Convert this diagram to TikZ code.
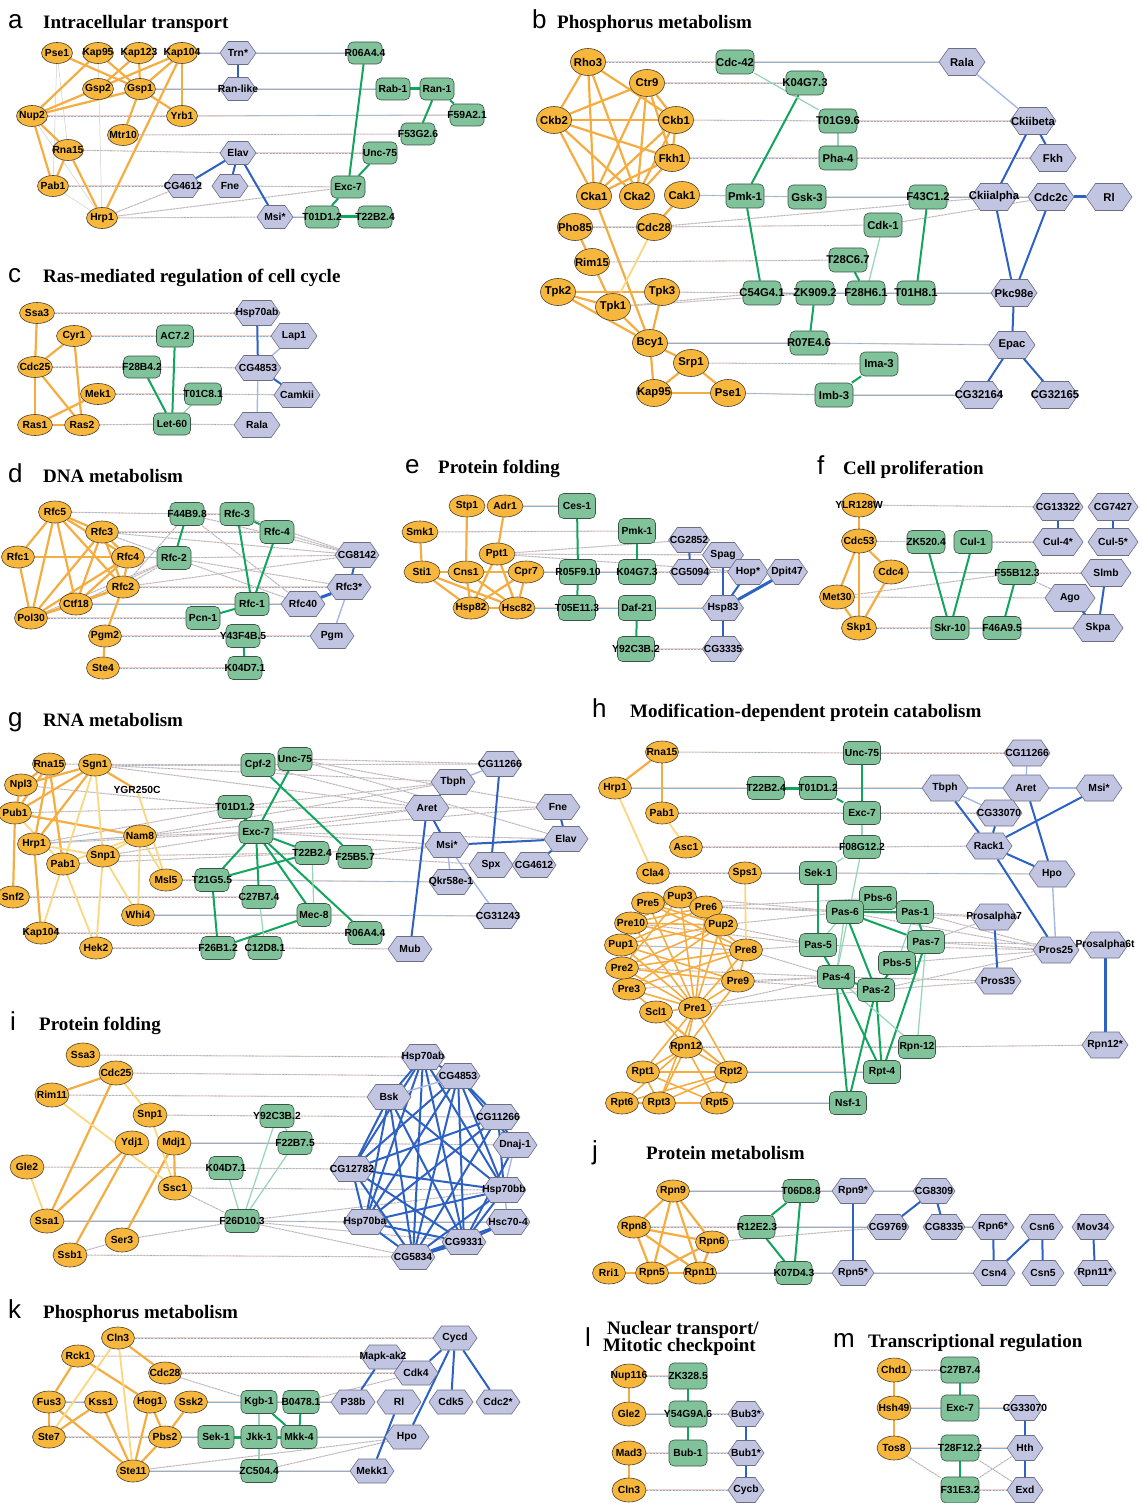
\documentclass[tikz,border=0pt]{standalone}
\usepackage{fontspec}
\newfontfamily\lblfont{Liberation Sans}
\newfontfamily\serf{Liberation Serif}
\usetikzlibrary{shapes.geometric,shapes.symbols,backgrounds}
\definecolor{yfill}{HTML}{F7B73C}
\definecolor{ydraw}{HTML}{4A4030}
\definecolor{wfill}{HTML}{80C39A}
\definecolor{wdraw}{HTML}{3C5446}
\definecolor{ffill}{HTML}{C2C5E2}
\definecolor{fdraw}{HTML}{6C6E86}
\definecolor{yedge}{HTML}{F5AD42}
\definecolor{yledge}{HTML}{FBD77E}
\definecolor{wedge}{HTML}{12A55E}
\definecolor{wledge}{HTML}{93D5B5}
\definecolor{fedge}{HTML}{2D62C4}
\definecolor{fledge}{HTML}{A4B8E8}
\definecolor{xblue}{HTML}{86B4D8}
\definecolor{xpink}{HTML}{F5D2C6}
\definecolor{gedge}{HTML}{CFCFCF}
\newcommand\nlf{\lblfont\bfseries\fontsize{10.3}{11}\selectfont}
\newcommand\nlb{\lblfont\bfseries\fontsize{11.3}{12}\selectfont}
\newcommand\Y[4]{\node[yn,label={[nl]center:#4}] (#1) at (#2,#3) {};}
\newcommand\W[4]{\node[wn,label={[nl]center:#4}] (#1) at (#2,#3) {};}
\newcommand\F[4]{\node[fn,label={[nl]center:#4}] (#1) at (#2,#3) {};}
\newcommand\E[3]{\foreach \q in {#3}{\draw[#1] (#2)--(\q);}}
\newcommand\Ttl[5]{\node[anchor=base west,inner sep=0pt,font=\lblfont\fontsize{26}{26}\selectfont] (t#1) at (#2,#4) {#1};
 \node[anchor=base west,inner sep=0pt,font=\serf\bfseries\fontsize{19}{20}\selectfont] (tt#1) at (#3,#4) {#5};}
\tikzset{
 yn/.style={ellipse,draw=ydraw,fill=yfill,line width=0.6pt,inner sep=0pt,minimum width=33pt,minimum height=22pt},
 wn/.style={rectangle,rounded corners=5pt,draw=wdraw,fill=wfill,line width=0.6pt,inner sep=0pt,minimum width=36pt,minimum height=23pt},
 fn/.style={signal,signal to=west and east,signal pointer angle=110,draw=fdraw,fill=ffill,line width=0.6pt,inner sep=0pt,minimum width=44pt,minimum height=25pt},
 nl/.style={font=\nlf,inner sep=0pt,text=black},
 ye/.style={draw=yedge,line width=2.2pt},
 yc/.style={draw=yedge,line width=1.6pt},
 yl/.style={draw=yledge,line width=1.8pt},
 yg/.style={draw=gedge,line width=0.5pt},
 we/.style={draw=wedge,line width=2pt},
 wt/.style={draw=wedge,line width=3pt},
 wl/.style={draw=wledge,line width=1.2pt},
 fe/.style={draw=fedge,line width=2pt},
 ft/.style={draw=fedge,line width=3pt},
 fl/.style={draw=fledge,line width=1.4pt},
 flt/.style={draw=fledge,line width=2.6pt},
 xs/.style={draw=xblue,line width=0.55pt,preaction={draw=xpink,line width=1.3pt}},
 xd/.style={draw=xblue,line width=0.55pt,dash pattern=on 2pt off 1.3pt,preaction={draw=xpink,line width=1.1pt,solid}},
}
\begin{document}
\begin{tikzpicture}[x=1pt,y=-1pt]
\useasboundingbox (0,0) rectangle (1141,1503);
\begin{scope}[on background layer]\fill[white] (0,0) rectangle (1141,1503);\end{scope}
% ================= a =================
\Ttl{a}{8}{43}{29}{Intracellular transport}
\begin{scope}[yn/.append style={minimum width=31pt,minimum height=21pt},wn/.append style={minimum width=34pt,minimum height=22pt},fn/.append style={minimum width=36pt,minimum height=23pt}]
\Y{aPse1}{57}{53}{Pse1}
\Y{aKap95}{98}{53}{Kap95}
\Y{aKap123}{139}{53}{Kap123}
\Y{aKap104}{182}{53}{Kap104}
\F{aTrn}{238}{53}{Trn*}
\W{aR06}{365}{53}{R06A4.4}
\Y{aGsp2}{98}{89}{Gsp2}
\Y{aGsp1}{140}{89}{Gsp1}
\F{aRanl}{238}{89}{Ran-like}
\W{aRab1}{393}{89}{Rab-1}
\W{aRan1}{437}{89}{Ran-1}
\Y{aNup2}{32}{116}{Nup2}
\Y{aYrb1}{182}{116}{Yrb1}
\W{aF59}{467}{115}{F59A2.1}
\Y{aMtr10}{123}{135}{Mtr10}
\W{aF53}{418}{134}{F53G2.6}
\Y{aRna15}{68}{150}{Rna15}
\F{aElav}{238}{153}{Elav}
\W{aUnc75}{380}{153}{Unc-75}
\Y{aPab1}{53}{186}{Pab1}
\F{aCG4612}{183}{186}{CG4612}
\F{aFne}{230}{186}{Fne}
\W{aExc7}{348}{187}{Exc-7}
\Y{aHrp1}{102}{218}{Hrp1}
\F{aMsi}{275}{217}{Msi*}
\W{aT01}{322}{217}{T01D1.2}
\W{aT22}{375}{217}{T22B2.4}
\end{scope}
\begin{scope}[on background layer]
\E{xs}{aKap104}{aTrn}
\E{xs}{aTrn}{aR06}
\E{xs}{aGsp1}{aRanl}
\E{xs}{aRanl}{aRab1}
\E{xd}{aNup2}{aYrb1}
\E{xs}{aYrb1}{aF59}
\E{xd}{aMtr10}{aF53}
\E{xd}{aRna15}{aElav}
\E{xd}{aElav}{aUnc75}
\E{xd}{aPab1}{aCG4612}
\E{xd}{aFne}{aExc7}
\E{xd}{aHrp1}{aCG4612,aExc7,aMsi}
\E{xs}{aMsi}{aT01}
\E{yg}{aPse1}{aRna15,aPab1}
\E{yg}{aHrp1}{aPab1,aNup2,aKap95}
\E{ye}{aPse1}{aGsp1}
\E{ye}{aKap95}{aGsp1,aNup2}
\E{ye}{aKap123}{aGsp1,aGsp2}
\E{ye}{aKap104}{aGsp1,aNup2,aYrb1,aHrp1}
\E{ye}{aGsp1}{aYrb1,aNup2,aMtr10}
\E{ye}{aNup2}{aRna15,aPab1}
\E{ye}{aRna15}{aPab1,aHrp1}
\E{we}{aR06}{aExc7}
\E{wt}{aRab1}{aRan1}
\E{we}{aRan1}{aF59,aF53}
\E{we}{aUnc75}{aExc7}
\E{we}{aExc7}{aT01}
\E{wt}{aT01}{aT22}
\E{fe}{aTrn}{aRanl}
\E{fe}{aElav}{aCG4612,aFne,aMsi}
\end{scope}
% ================= b =================
\Ttl{b}{532}{557}{29}{Phosphorus metabolism}
\begin{scope}[yn/.append style={minimum width=35pt,minimum height=27pt},wn/.append style={minimum width=38pt,minimum height=24pt},fn/.append style={minimum width=46pt,minimum height=27pt},nl/.append style={font=\nlb}]
\Y{bRho3}{588}{62}{Rho3}
\W{bCdc42}{735}{62}{Cdc-42}
\F{bRala}{962}{62}{Rala}
\Y{bCtr9}{647}{83}{Ctr9}
\W{bK04}{805}{83}{K04G7.3}
\Y{bCkb2}{554}{120}{Ckb2}
\Y{bCkb1}{676}{120}{Ckb1}
\W{bT01G}{838}{121}{T01G9.6}
\F{bCkiib}{1033}{121}{Ckiibeta}
\Y{bFkh1}{672}{158}{Fkh1}
\W{bPha4}{838}{158}{Pha-4}
\F{bFkh}{1053}{158}{Fkh}
\Y{bCka1}{594}{196}{Cka1}
\Y{bCka2}{637}{196}{Cka2}
\Y{bCak1}{682}{195}{Cak1}
\W{bPmk1}{745}{196}{Pmk-1}
\W{bGsk3}{807}{197}{Gsk-3}
\W{bF43}{928}{197}{F43C1.2}
\F{bCkiia}{994}{197}{Ckiialpha}
\F{bCdc2c}{1051}{197}{Cdc2c}
\F{bRl}{1109}{197}{Rl}
\Y{bPho85}{575}{227}{Pho85}
\Y{bCdc28}{654}{227}{Cdc28}
\W{bCdk1}{883}{225}{Cdk-1}
\Y{bRim15}{592}{262}{Rim15}
\W{bT28}{848}{260}{T28C6.7}
\Y{bTpk2}{558}{292}{Tpk2}
\Y{bTpk3}{662}{292}{Tpk3}
\Y{bTpk1}{613}{307}{Tpk1}
\W{bC54}{762}{293}{C54G4.1}
\W{bZK}{815}{293}{ZK909.2}
\W{bF28}{866}{293}{F28H6.1}
\W{bT01H}{916}{293}{T01H8.1}
\F{bPkc}{1014}{293}{Pkc98e}
\Y{bBcy1}{650}{343}{Bcy1}
\W{bR07}{809}{343}{R07E4.6}
\F{bEpac}{1012}{345}{Epac}
\Y{bSrp1}{691}{363}{Srp1}
\W{bIma3}{879}{364}{Ima-3}
\Y{bKap95}{654}{393}{Kap95}
\Y{bPse1}{728}{393}{Pse1}
\W{bImb3}{834}{395}{Imb-3}
\F{bCG64}{979}{395}{CG32164}
\F{bCG65}{1055}{395}{CG32165}
\end{scope}
\begin{scope}[on background layer]
\E{xd}{bRho3}{bCdc42}
\E{xs}{bCdc42}{bRala}
\E{xd}{bCtr9}{bK04}
\E{xd}{bCkb1}{bT01G}
\E{xd}{bT01G}{bCkiib}
\E{xd}{bFkh1}{bPha4}
\E{xd}{bPha4}{bFkh}
\E{xs}{bCak1}{bPmk1}
\E{xs}{bPmk1}{bGsk3}
\E{xs}{bGsk3}{bF43}
\E{xs}{bF43}{bCkiia}
\E{xs}{bCkiia}{bCdc2c}
\E{xd}{bPho85}{bCdc28}
\E{xd}{bCdc28}{bCdk1,bCkiia}
\E{xd}{bCdk1}{bCdc2c}
\E{xd}{bRim15}{bT28}
\E{xd}{bTpk1}{bC54,bZK}
\E{xd}{bTpk3}{bC54}
\E{xs}{bC54}{bZK}
\E{xs}{bZK}{bF28}
\E{xs}{bF28}{bT01H}
\E{xs}{bT01H}{bPkc}
\E{xs}{bBcy1}{bR07}
\E{xs}{bR07}{bEpac}
\E{xd}{bSrp1}{bIma3}
\E{xs}{bPse1}{bImb3}
\E{xs}{bImb3}{bCG64}
\E{ye}{bRho3}{bCkb2,bCkb1,bCka1,bCka2}
\E{ye}{bCtr9}{bCkb2,bCkb1,bCka1,bCka2,bFkh1}
\E{ye}{bCkb2}{bCkb1,bCka1,bCka2,bFkh1}
\E{ye}{bCkb1}{bCka1,bCka2,bFkh1}
\E{ye}{bFkh1}{bCka1,bCka2}
\E{ye}{bCak1}{bCdc28}
\E{ye}{bCka1}{bBcy1}
\E{ye}{bPho85}{bRim15}
\E{ye}{bRim15}{bTpk1}
\E{ye}{bTpk2}{bTpk3,bTpk1,bBcy1}
\E{ye}{bTpk1}{bBcy1}
\E{ye}{bTpk3}{bBcy1}
\E{ye}{bBcy1}{bKap95,bSrp1}
\E{ye}{bSrp1}{bKap95,bPse1}
\E{ye}{bKap95}{bPse1}
\E{yl}{bCdc28}{bTpk1}
\E{we}{bK04}{bPmk1}
\E{we}{bPmk1}{bC54}
\E{we}{bF43}{bT01H}
\E{we}{bT28}{bF28}
\E{we}{bZK}{bR07}
\E{we}{bIma3}{bImb3}
\E{wl}{bCdc42}{bT01G}
\E{wl}{bT01G}{bPha4}
\E{wl}{bCdk1}{bF28}
\E{fl}{bRala}{bCkiib}
\E{fe}{bCkiib}{bCkiia,bFkh}
\E{fe}{bCkiia}{bPkc}
\E{fe}{bCdc2c}{bPkc}
\E{ft}{bCdc2c}{bRl}
\E{fe}{bPkc}{bEpac}
\E{fe}{bEpac}{bCG64,bCG65}
\end{scope}
% ================= c =================
\Ttl{c}{8}{43}{283}{Ras-mediated regulation of cell cycle}
\begin{scope}[yn/.append style={minimum width=35pt,minimum height=21pt},wn/.append style={minimum width=37pt,minimum height=22pt},fn/.append style={minimum width=46pt,minimum height=25pt}]
\Y{cSsa3}{37}{313}{Ssa3}
\F{cHsp}{257}{313}{Hsp70ab}
\Y{cCyr1}{74}{336}{Cyr1}
\W{cAC7}{175}{336}{AC7.2}
\F{cLap1}{294}{336}{Lap1}
\Y{cCdc25}{35}{367}{Cdc25}
\W{cF28}{142}{367}{F28B4.2}
\F{cCG48}{258}{368}{CG4853}
\Y{cMek1}{98}{394}{Mek1}
\W{cT01C}{203}{394}{T01C8.1}
\F{cCamk}{297}{395}{Camkii}
\Y{cRas1}{35}{425}{Ras1}
\Y{cRas2}{82}{425}{Ras2}
\W{cLet60}{172}{424}{Let-60}
\F{cRala}{257}{425}{Rala}
\end{scope}
\begin{scope}[on background layer]
\E{xd}{cSsa3}{cHsp}
\E{xd}{cCyr1}{cAC7}
\E{xd}{cAC7}{cLap1}
\E{xd}{cCdc25}{cF28}
\E{xd}{cF28}{cCG48}
\E{xd}{cMek1}{cT01C}
\E{xd}{cT01C}{cCamk}
\E{xd}{cRas2}{cLet60}
\E{xd}{cLet60}{cRala}
\E{ye}{cSsa3}{cCdc25}
\E{ye}{cCyr1}{cCdc25,cRas2}
\E{ye}{cCdc25}{cRas1,cRas2}
\E{ye}{cRas1}{cRas2,cMek1}
\E{we}{cAC7}{cLet60}
\E{we}{cF28}{cLet60}
\E{wl}{cT01C}{cLet60}
\E{fe}{cHsp}{cCG48}
\E{fe}{cCG48}{cCamk}
\E{fl}{cLap1}{cCG48}
\E{fl}{cCG48}{cRala}
\end{scope}
% ================= d =================
\Ttl{d}{8}{43}{482}{DNA metabolism}
\begin{scope}[wn/.append style={minimum width=34pt}]
\Y{dRfc5}{55}{512}{Rfc5}
\W{dF44}{187}{514}{F44B9.8}
\W{dW3}{237}{514}{Rfc-3}
\Y{dRfc3}{102}{532}{Rfc3}
\W{dW4}{277}{532}{Rfc-4}
\Y{dRfc1}{18}{557}{Rfc1}
\Y{dRfc4}{128}{557}{Rfc4}
\W{dW2}{174}{558}{Rfc-2}
\F{dCG81}{357}{555}{CG8142}
\Y{dRfc2}{123}{587}{Rfc2}
\F{dRfc3s}{349}{587}{Rfc3*}
\Y{dCtf18}{76}{604}{Ctf18}
\W{dW1}{252}{604}{Rfc-1}
\F{dRfc40}{303}{604}{Rfc40}
\Y{dPol30}{31}{618}{Pol30}
\W{dPcn1}{203}{618}{Pcn-1}
\Y{dPgm2}{105}{636}{Pgm2}
\W{dY43}{243}{636}{Y43F4B.5}
\F{dPgm}{332}{636}{Pgm}
\Y{dSte4}{103}{668}{Ste4}
\W{dK04}{245}{668}{K04D7.1}
\end{scope}
\begin{scope}[on background layer]
\E{xd}{dRfc5}{dF44}
\E{xd}{dF44}{dW3,dCG81,dRfc40}
\E{xd}{dRfc3}{dW2,dCG81,dW4}
\E{xd}{dW2}{dCG81,dRfc3s,dRfc40}
\E{xd}{dRfc2}{dW2,dCG81,dRfc3s,dF44}
\E{xd}{dCtf18}{dW2}
\E{xd}{dPol30}{dW2,dPcn1}
\E{xd}{dW3}{dCG81}
\E{xd}{dW4}{dCG81}
\E{xd}{dPgm2}{dY43}
\E{xd}{dY43}{dPgm}
\E{xd}{dSte4}{dK04}
\E{xs}{dCtf18}{dW1}
\E{xs}{dW1}{dRfc40}
\E{xs}{dRfc4}{dW2}
\E{ye}{dRfc5}{dRfc3,dRfc1,dRfc4,dRfc2,dCtf18,dPol30}
\E{ye}{dRfc1}{dRfc4,dPol30}
\E{ye}{dRfc3}{dRfc4,dRfc2,dCtf18,dPol30}
\E{ye}{dRfc4}{dRfc2,dCtf18,dPol30}
\E{ye}{dRfc2}{dCtf18,dPol30,dPgm2}
\E{ye}{dCtf18}{dPol30}
\E{ye}{dPgm2}{dSte4}
\E{we}{dF44}{dW2}
\E{we}{dW3}{dW1,dW4}
\E{we}{dW4}{dW1}
\E{we}{dW1}{dPcn1}
\E{we}{dY43}{dK04}
\E{fe}{dCG81}{dRfc3s}
\E{ft}{dRfc3s}{dRfc40}
\E{fl}{dRfc3s}{dPgm}
\end{scope}
% ================= e =================
\Ttl{e}{405}{438}{473}{Protein folding}
\begin{scope}[yn/.append style={minimum width=36pt},wn/.append style={minimum width=37pt,minimum height=25pt},fn/.append style={minimum width=41pt}]
\Y{eStp1}{467}{506}{Stp1}
\Y{eAdr1}{505}{506}{Adr1}
\W{eCes1}{577}{506}{Ces-1}
\Y{eSmk1}{420}{532}{Smk1}
\W{ePmk1}{637}{531}{Pmk-1}
\F{eCG28}{689}{540}{CG2852}
\Y{ePpt1}{497}{554}{Ppt1}
\F{eSpag}{723}{555}{Spag}
\Y{eSti1}{422}{572}{Sti1}
\Y{eCns1}{466}{572}{Cns1}
\Y{eCpr7}{526}{572}{Cpr7}
\W{eR05}{578}{572}{R05F9.10}
\W{eK04}{637}{572}{K04G7.3}
\F{eCG50}{690}{572}{CG5094}
\F{eHop}{748}{572}{Hop*}
\F{eDpit}{787}{572}{Dpit47}
\Y{eHsp82}{471}{608}{Hsp82}
\Y{eHsc82}{517}{608}{Hsc82}
\W{eT05}{577}{608}{T05E11.3}
\W{eDaf21}{637}{608}{Daf-21}
\F{eHsp83}{723}{608}{Hsp83}
\W{eY92}{636}{649}{Y92C3B.2}
\F{eCG33}{723}{649}{CG3335}
\end{scope}
\begin{scope}[on background layer]
\E{xs}{eAdr1}{eCes1}
\E{xd}{eSmk1}{ePmk1}
\E{xd}{ePpt1}{eCG28,eSpag,eHop}
\E{xs}{eCpr7}{eR05}
\E{xs}{eR05}{eK04}
\E{xd}{eK04}{eCG50}
\E{xd}{eCG50}{eHop}
\E{xs}{eHsc82}{eT05}
\E{xs}{eT05}{eDaf21}
\E{xs}{eDaf21}{eHsp83}
\E{xd}{eY92}{eCG33}
\E{ye}{eSmk1}{eSti1}
\E{ye}{eStp1}{eCns1}
\E{ye}{eAdr1}{ePpt1}
\E{ye}{eSti1}{eCns1,eHsp82,eHsc82}
\E{ye}{eCns1}{eHsp82,eHsc82,eCpr7}
\E{ye}{eCpr7}{eHsp82,eHsc82}
\E{ye}{ePpt1}{eHsp82,eHsc82}
\E{ye}{eHsp82}{eHsc82}
\E{we}{eCes1}{eR05}
\E{we}{eR05}{eT05}
\E{we}{ePmk1}{eK04}
\E{we}{eDaf21}{eY92}
\E{fe}{eCG28}{eCG50}
\E{fe}{eSpag}{eHsp83}
\E{fe}{eHop}{eHsp83}
\E{ft}{eDpit}{eHsp83}
\E{fe}{eHsp83}{eCG33}
\end{scope}
% ================= f =================
\Ttl{f}{817}{843}{474}{Cell proliferation}
\begin{scope}[yn/.append style={minimum width=35pt,minimum height=24pt},wn/.append style={minimum width=38pt},fn/.append style={minimum width=50pt,minimum height=27pt}]
\Y{fYLR}{859}{505}{YLR128W}
\F{fCG13}{1058}{507}{CG13322}
\F{fCG74}{1113}{507}{CG7427}
\Y{fCdc53}{859}{541}{Cdc53}
\W{fZK}{926}{542}{ZK520.4}
\W{fCul1}{973}{542}{Cul-1}
\F{fCul4}{1058}{542}{Cul-4*}
\F{fCul5}{1113}{542}{Cul-5*}
\Y{fCdc4}{891}{572}{Cdc4}
\W{fF55}{1017}{573}{F55B12.3}
\F{fSlmb}{1106}{573}{Slmb}
\Y{fMet30}{837}{597}{Met30}
\F{fAgo}{1070}{598}{Ago}
\Y{fSkp1}{859}{628}{Skp1}
\W{fSkr10}{950}{628}{Skr-10}
\W{fF46}{1002}{628}{F46A9.5}
\F{fSkpa}{1098}{628}{Skpa}
\end{scope}
\begin{scope}[on background layer]
\E{xd}{fYLR}{fCG13}
\E{xd}{fCdc53}{fZK}
\E{xd}{fCul1}{fCul4}
\E{xs}{fCdc4}{fF55}
\E{xd}{fF55}{fSlmb,fAgo}
\E{xd}{fMet30}{fF55,fAgo}
\E{xd}{fSkp1}{fSkr10}
\E{xs}{fSkr10}{fF46}
\E{xs}{fF46}{fSkpa}
\E{ye}{fYLR}{fCdc53}
\E{ye}{fCdc53}{fMet30,fSkp1,fCdc4}
\E{ye}{fMet30}{fSkp1}
\E{ye}{fCdc4}{fSkp1}
\E{we}{fZK}{fSkr10}
\E{we}{fCul1}{fSkr10}
\E{we}{fF55}{fF46}
\E{fe}{fCG13}{fCul4}
\E{fe}{fCG74}{fCul5}
\E{fe}{fSlmb}{fSkpa}
\E{fe}{fAgo}{fSkpa}
\end{scope}
% ================= g =================
\Ttl{g}{8}{43}{726}{RNA metabolism}
\begin{scope}[wn/.append style={minimum width=34pt}]
\Y{gRna15}{49}{764}{Rna15}
\Y{gSgn1}{95}{765}{Sgn1}
\Y{gNpl3}{21}{785}{Npl3}
\node[label={[nl]center:YGR250C}] (gYGR) at (137,790) {};
\Y{gPub1}{15}{813}{Pub1}
\W{gCpf2}{258}{765}{Cpf-2}
\W{gUnc75}{295}{759}{Unc-75}
\F{gCG11}{500}{764}{CG11266}
\F{gTbph}{453}{782}{Tbph}
\W{gT01}{235}{807}{T01D1.2}
\F{gAret}{427}{808}{Aret}
\F{gFne}{558}{807}{Fne}
\W{gExc7}{256}{832}{Exc-7}
\Y{gNam8}{140}{836}{Nam8}
\Y{gHrp1}{34}{844}{Hrp1}
\Y{gSnp1}{103}{856}{Snp1}
\Y{gPab1}{63}{864}{Pab1}
\W{gT22}{312}{853}{T22B2.4}
\W{gF25}{355}{857}{F25B5.7}
\F{gMsi}{447}{845}{Msi*}
\F{gElav}{566}{839}{Elav}
\F{gSpx}{491}{865}{Spx}
\F{gCG46}{534}{865}{CG4612}
\Y{gMsl5}{166}{880}{Msl5}
\W{gT21}{212}{880}{T21G5.5}
\F{gQkr}{451}{882}{Qkr58e-1}
\Y{gSnf2}{13}{897}{Snf2}
\W{gC27}{259}{897}{C27B7.4}
\Y{gWhi4}{138}{915}{Whi4}
\W{gMec8}{314}{915}{Mec-8}
\F{gCG31}{498}{916}{CG31243}
\Y{gKap104}{41}{933}{Kap104}
\W{gR06}{365}{933}{R06A4.4}
\Y{gHek2}{96}{948}{Hek2}
\W{gF26}{218}{948}{F26B1.2}
\W{gC12}{265}{948}{C12D8.1}
\F{gMub}{410}{949}{Mub}
\end{scope}
\begin{scope}[on background layer]
\E{xd}{gSgn1}{gCpf2,gTbph,gAret,gCG11}
\E{xd}{gRna15}{gCpf2}
\E{xd}{gUnc75}{gCG11,gElav,gFne}
\E{xd}{gCpf2}{gAret}
\E{xd}{gNpl3}{gT01}
\E{xd}{gPub1}{gT01}
\E{xd}{gT01}{gAret,gTbph}
\E{xd}{gAret}{gFne}
\E{xd}{gNam8}{gExc7,gTbph,gAret}
\E{xd}{gExc7}{gAret,gElav,gFne,gMsi}
\E{xd}{gHrp1}{gExc7,gT01}
\E{xd}{gPab1}{gT22}
\E{xd}{gSnp1}{gT22,gExc7}
\E{xd}{gF25}{gSpx,gMsi}
\E{xd}{gT22}{gElav}
\E{xd}{gMsl5}{gT21}
\E{xs}{gT21}{gQkr}
\E{xd}{gSnf2}{gC27}
\E{xs}{gWhi4}{gMec8}
\E{xs}{gMec8}{gCG31}
\E{xd}{gKap104}{gR06}
\E{xd}{gHek2}{gF26}
\E{xd}{gC12}{gMub}
\E{xs}{gHrp1}{gNam8}
\E{ye}{gRna15}{gNpl3,gPub1,gHrp1,gPab1}
\E{ye}{gSgn1}{gNpl3,gPub1,gHrp1,gYGR}
\E{ye}{gPub1}{gNam8,gSnf2}
\E{ye}{gHrp1}{gKap104}
\E{ye}{gNpl3}{gPub1}
\E{yl}{gSgn1}{gPab1,gSnp1}
\E{yl}{gYGR}{gMsl5}
\E{yl}{gNam8}{gMsl5,gSnp1,gWhi4,gPab1}
\E{yl}{gPab1}{gKap104,gHek2}
\E{yl}{gSnp1}{gHek2,gWhi4}
\E{yl}{gHrp1}{gSnp1}
\E{yl}{gPub1}{gPab1}
\E{we}{gUnc75}{gExc7}
\E{we}{gCpf2}{gF25}
\E{we}{gT01}{gExc7}
\E{we}{gExc7}{gT22,gT21,gC27,gMec8,gR06}
\E{we}{gT22}{gT21}
\E{we}{gT21}{gF26}
\E{we}{gMec8}{gF26}
\E{wl}{gT22}{gMec8}
\E{wl}{gC27}{gC12}
\E{fe}{gCG11}{gSpx}
\E{fe}{gTbph}{gAret}
\E{fe}{gAret}{gMsi,gMub}
\E{fe}{gFne}{gElav}
\E{fe}{gMsi}{gElav}
\E{fe}{gElav}{gCG46}
\E{fl}{gCG11}{gTbph}
\E{fl}{gMsi}{gQkr,gCG31}
\end{scope}
% ================= h =================
\Ttl{h}{592}{630}{717}{Modification-dependent protein catabolism}
\begin{scope}[wn/.append style={minimum width=37pt},fn/.append style={minimum width=46pt,minimum height=26pt}]
\Y{hRna15}{662}{752}{Rna15}
\W{hUnc75}{862}{753}{Unc-75}
\F{hCG11}{1027}{753}{CG11266}
\Y{hHrp1}{615}{788}{Hrp1}
\W{hT22}{766}{788}{T22B2.4}
\W{hT01}{818}{788}{T01D1.2}
\F{hTbph}{945}{788}{Tbph}
\F{hAret}{1026}{788}{Aret}
\F{hMsi}{1099}{788}{Msi*}
\Y{hPab1}{662}{813}{Pab1}
\W{hExc7}{862}{813}{Exc-7}
\F{hCG33}{999}{813}{CG33070}
\Y{hAsc1}{686}{847}{Asc1}
\W{hF08}{862}{847}{F08G12.2}
\F{hRack1}{989}{846}{Rack1}
\Y{hCla4}{653}{873}{Cla4}
\Y{hSps1}{745}{873}{Sps1}
\W{hSek1}{818}{873}{Sek-1}
\F{hHpo}{1052}{874}{Hpo}
\W{hPbs6}{878}{898}{Pbs-6}
\W{hPas6}{845}{912}{Pas-6}
\W{hPas1}{915}{912}{Pas-1}
\F{hPa7}{994}{917}{Prosalpha7}
\W{hPas5}{818}{945}{Pas-5}
\W{hPas7}{926}{942}{Pas-7}
\F{hPros25}{1056}{950}{Pros25}
\F{hPa6t}{1105}{945}{Prosalpha6t}
\W{hPbs5}{897}{963}{Pbs-5}
\W{hPas4}{836}{977}{Pas-4}
\F{hPros35}{998}{981}{Pros35}
\W{hPas2}{876}{990}{Pas-2}
\Y{hPre3}{629}{989}{Pre3}
\Y{hPre2}{622}{968}{Pre2}
\Y{hPup1}{621}{945}{Pup1}
\Y{hPre10}{631}{923}{Pre10}
\Y{hPre5}{648}{903}{Pre5}
\Y{hPup3}{680}{897}{Pup3}
\Y{hPre6}{706}{907}{Pre6}
\Y{hPup2}{721}{925}{Pup2}
\Y{hPre8}{746}{950}{Pre8}
\Y{hPre9}{738}{981}{Pre9}
\Y{hScl1}{656}{1012}{Scl1}
\Y{hPre1}{695}{1008}{Pre1}
\Y{hRpn12}{686}{1047}{Rpn12}
\W{hRpnw}{917}{1047}{Rpn-12}
\F{hRpns}{1105}{1045}{Rpn12*}
\Y{hRpt1}{643}{1072}{Rpt1}
\Y{hRpt2}{731}{1072}{Rpt2}
\W{hRpt4w}{882}{1072}{Rpt-4}
\Y{hRpt6}{622}{1103}{Rpt6}
\Y{hRpt3}{659}{1103}{Rpt3}
\Y{hRpt5}{717}{1103}{Rpt5}
\W{hNsf1}{848}{1103}{Nsf-1}
\end{scope}
\begin{scope}[on background layer]
\E{xd}{hRna15}{hUnc75}
\E{xd}{hUnc75}{hCG11}
\E{xs}{hHrp1}{hT22}
\E{xs}{hT01}{hTbph}
\E{xd}{hPab1}{hExc7}
\E{xd}{hExc7}{hCG33}
\E{xd}{hAsc1}{hF08}
\E{xd}{hF08}{hRack1}
\E{xd}{hCla4}{hSps1}
\E{xs}{hSps1}{hSek1}
\E{xs}{hSek1}{hHpo}
\E{xd}{hPre6}{hPas6,hPbs6,hPas1}
\E{xd}{hPup3}{hPas6}
\E{xd}{hPup2}{hPas6,hPas5}
\E{xd}{hPre10}{hPas5}
\E{xs}{hPup1}{hPre8}
\E{xd}{hPre8}{hPas5,hPas4}
\E{xd}{hPre2}{hPas4}
\E{xd}{hPre9}{hPas4,hPas2}
\E{xd}{hPre3}{hPas4}
\E{xd}{hPre1}{hPas2,hPas4}
\E{xd}{hPas1}{hPa7,hPros25}
\E{xd}{hPas6}{hPros25,hPa7}
\E{xd}{hPas7}{hPros25,hPa6t,hPa7}
\E{xd}{hPbs5}{hPros25}
\E{xd}{hPas2}{hPros35,hPros25}
\E{xd}{hPas4}{hPros35}
\E{xd}{hPas5}{hPros25}
\E{xd}{hRpn12}{hRpnw}
\E{xd}{hRpnw}{hRpns}
\E{xs}{hRpt2}{hRpt4w}
\E{xs}{hRpt5}{hNsf1}
\E{ye}{hRna15}{hHrp1,hPab1}
\E{yl}{hPab1}{hAsc1}
\E{yl}{hHrp1}{hCla4}
\E{yl}{hSps1}{hPre8}
\E{yc}{hPre1}{hPre5,hPup3,hPre6,hPre10,hPup2,hPup1,hPre8,hPre2,hPre9,hPre3,hScl1,hRpn12,hRpt1,hRpt2,hRpt3}
\E{yc}{hPre5}{hPre10,hPup1,hPre8,hPup2}
\E{yc}{hPup3}{hPre10,hPre2,hPre8}
\E{yc}{hPre6}{hPre10,hPup1,hPre9}
\E{yc}{hPre10}{hPup2,hPre8}
\E{yc}{hPup1}{hPre9,hPup2}
\E{yc}{hPup2}{hPre3,hPre2}
\E{yc}{hPre8}{hPre2,hPre3,hPre9}
\E{yc}{hPre2}{hPre9}
\E{yc}{hRpn12}{hRpt1,hRpt2,hRpt6,hRpt3,hRpt5}
\E{yc}{hRpt1}{hRpt2,hRpt3,hRpt5}
\E{yc}{hRpt2}{hRpt6,hRpt3,hRpt5}
\E{yc}{hRpt6}{hRpt5}
\E{yc}{hScl1}{hRpt2,hRpn12}
\E{yc}{hPre9}{hRpn12}
\E{yc}{hPre3}{hRpt2}
\E{we}{hUnc75}{hExc7}
\E{wt}{hT22}{hT01}
\E{we}{hT01}{hExc7}
\E{we}{hSek1}{hPas5}
\E{we}{hPas6}{hPas1,hPas7,hPas2,hPbs6}
\E{we}{hPas1}{hPas7}
\E{we}{hPas5}{hPas4}
\E{we}{hPas7}{hRpt4w}
\E{we}{hPbs5}{hPas2}
\E{we}{hPas4}{hPas2,hNsf1,hRpt4w}
\E{we}{hPas2}{hRpt4w,hNsf1}
\E{wl}{hExc7}{hF08}
\E{wl}{hF08}{hSek1,hPas4}
\E{wl}{hPas6}{hPas5,hPas4}
\E{wl}{hPas7}{hRpnw}
\E{wl}{hPas4}{hRpnw}
\E{wl}{hPas1}{hPbs5}
\E{fl}{hCG11}{hAret}
\E{flt}{hTbph}{hAret}
\E{flt}{hAret}{hMsi}
\E{fl}{hTbph}{hCG33}
\E{fe}{hTbph}{hRack1}
\E{fe}{hCG33}{hRack1}
\E{fe}{hMsi}{hRack1}
\E{fe}{hAret}{hHpo}
\E{fe}{hRack1}{hHpo,hPros25}
\E{fl}{hHpo}{hPros25}
\E{fe}{hPa7}{hPros35}
\E{ft}{hPa6t}{hRpns}
\end{scope}
% ================= i =================
\Ttl{i}{10}{39}{1030}{Protein folding}
\begin{scope}[yn/.append style={minimum width=34pt,minimum height=24pt},wn/.append style={minimum width=34pt}]
\Y{iSsa3}{83}{1055}{Ssa3}
\F{iHsp70ab}{423}{1057}{Hsp70ab}
\Y{iCdc25}{116}{1073}{Cdc25}
\F{iCG48}{458}{1076}{CG4853}
\Y{iRim11}{52}{1095}{Rim11}
\F{iBsk}{389}{1097}{Bsk}
\Y{iSnp1}{150}{1115}{Snp1}
\W{iY92}{277}{1116}{Y92C3B.2}
\F{iCG11}{498}{1117}{CG11266}
\Y{iYdj1}{132}{1143}{Ydj1}
\Y{iMdj1}{174}{1143}{Mdj1}
\W{iF22}{295}{1143}{F22B7.5}
\F{iDnaj}{515}{1145}{Dnaj-1}
\Y{iGle2}{27}{1167}{Gle2}
\W{iK04}{226}{1168}{K04D7.1}
\F{iCG12}{352}{1169}{CG12782}
\Y{iSsc1}{175}{1188}{Ssc1}
\F{iHsp70bb}{504}{1190}{Hsp70bb}
\Y{iSsa1}{47}{1221}{Ssa1}
\W{iF26}{242}{1221}{F26D10.3}
\F{iHsp70ba}{365}{1222}{Hsp70ba}
\F{iHsc70}{508}{1222}{Hsc70-4}
\Y{iSer3}{122}{1240}{Ser3}
\F{iCG93}{464}{1242}{CG9331}
\Y{iSsb1}{70}{1255}{Ssb1}
\F{iCG58}{413}{1257}{CG5834}
\end{scope}
\begin{scope}[on background layer]
\E{xd}{iSsa3}{iHsp70ab}
\E{xd}{iCdc25}{iCG48}
\E{xd}{iRim11}{iBsk}
\E{xd}{iSnp1}{iY92}
\E{xd}{iY92}{iCG11}
\E{xs}{iMdj1}{iF22}
\E{xd}{iF22}{iDnaj}
\E{xd}{iGle2}{iK04}
\E{xd}{iK04}{iCG12}
\E{xd}{iSsc1}{iHsp70bb}
\E{xd}{iSsc1}{iF26}
\E{xd}{iF26}{iHsp70bb,iCG58,iCG93}
\E{xd}{iSer3}{iF26}
\E{xd}{iSsb1}{iCG58,iSer3}
\E{xs}{iSsa1}{iF26}
\E{xs}{iF26}{iHsp70ba}
\E{xs}{iHsp70ba}{iHsc70}
\E{ye}{iCdc25}{iRim11,iSsa1}
\E{ye}{iYdj1}{iSsa1,iSsb1}
\E{ye}{iMdj1}{iSsc1,iSer3}
\E{yl}{iCdc25}{iSnp1}
\E{yl}{iRim11}{iSsc1}
\E{yl}{iSnp1}{iSsc1}
\E{yl}{iGle2}{iSsa1}
\E{wl}{iY92}{iF26,iF22}
\E{wl}{iF22}{iF26}
\E{wl}{iK04}{iF26}
\E{fe}{iHsp70ab}{iCG48,iBsk,iCG12,iHsp70ba,iCG58,iCG93,iHsp70bb}
\E{fl}{iCG48}{iBsk}
\E{fe}{iCG48}{iCG11,iDnaj,iHsp70bb,iCG12,iHsp70ba,iCG93,iCG58}
\E{fe}{iBsk}{iCG12,iHsp70ba,iCG58,iHsp70bb,iCG93}
\E{fe}{iCG11}{iHsp70bb,iDnaj,iCG58,iCG12,iHsp70ba}
\E{fl}{iDnaj}{iHsp70bb}
\E{fe}{iDnaj}{iCG93}
\E{fe}{iCG12}{iHsp70bb,iHsp70ba,iCG58,iCG93}
\E{fe}{iHsp70bb}{iCG93,iCG58,iHsp70ba}
\E{fl}{iHsp70bb}{iHsc70}
\E{fe}{iHsp70ba}{iCG58,iCG93}
\E{fe}{iHsc70}{iCG93,iCG58}
\E{ft}{iCG93}{iCG58}
\end{scope}
% ================= j =================
\Ttl{j}{592}{646}{1159}{Protein metabolism}
\begin{scope}[fn/.append style={minimum width=42pt}]
\Y{jRpn9}{673}{1191}{Rpn9}
\W{jT06}{801}{1191}{T06D8.8}
\F{jRpn9s}{853}{1191}{Rpn9*}
\F{jCG83a}{934}{1191}{CG8309}
\Y{jRpn8}{634}{1227}{Rpn8}
\W{jR12}{757}{1227}{R12E2.3}
\F{jCG97}{888}{1227}{CG9769}
\F{jCG83b}{944}{1227}{CG8335}
\F{jRpn6s}{993}{1227}{Rpn6*}
\F{jCsn6}{1042}{1227}{Csn6}
\F{jMov34}{1093}{1227}{Mov34}
\Y{jRpn6}{712}{1242}{Rpn6}
\Y{jRri1}{609}{1273}{Rri1}
\Y{jRpn5}{652}{1273}{Rpn5}
\Y{jRpn11}{700}{1273}{Rpn11}
\W{jK07}{794}{1273}{K07D4.3}
\F{jRpn5s}{853}{1273}{Rpn5*}
\F{jCsn4}{994}{1273}{Csn4}
\F{jCsn5}{1043}{1273}{Csn5}
\F{jRpn11s}{1095}{1273}{Rpn11*}
\end{scope}
\begin{scope}[on background layer]
\E{xs}{jRpn9}{jT06}
\E{xs}{jT06}{jRpn9s}
\E{xs}{jRpn9s}{jCG83a}
\E{xd}{jRpn8}{jR12}
\E{xs}{jR12}{jCG97}
\E{xs}{jCG83b}{jRpn6s}
\E{xd}{jRpn6}{jCG97}
\E{xs}{jRpn11}{jK07}
\E{xs}{jK07}{jRpn5s}
\E{xs}{jRpn5s}{jCsn4}
\E{ye}{jRpn9}{jRpn8,jRpn5,jRpn11,jRpn6}
\E{ye}{jRpn8}{jRpn5,jRpn11,jRpn6}
\E{ye}{jRpn6}{jRpn5,jRpn11}
\E{ye}{jRri1}{jRpn5}
\E{ye}{jRpn5}{jRpn11}
\E{we}{jT06}{jR12,jK07}
\E{we}{jR12}{jK07}
\E{fe}{jRpn9s}{jRpn5s}
\E{fe}{jCG83a}{jCG97,jCG83b}
\E{fe}{jRpn6s}{jCsn4}
\E{fe}{jCsn6}{jCsn4,jCsn5}
\E{fe}{jMov34}{jRpn11s}
\end{scope}
% ================= k =================
\Ttl{k}{8}{43}{1318}{Phosphorus metabolism}
\begin{scope}[fn/.append style={minimum height=24pt}]
\Y{kCln3}{118}{1338}{Cln3}
\F{kCycd}{455}{1338}{Cycd}
\Y{kRck1}{78}{1356}{Rck1}
\F{kMapk}{383}{1357}{Mapk-ak2}
\Y{kCdc28}{165}{1373}{Cdc28}
\F{kCdk4}{416}{1373}{Cdk4}
\Y{kFus3}{49}{1402}{Fus3}
\Y{kKss1}{101}{1402}{Kss1}
\Y{kHog1}{150}{1402}{Hog1}
\Y{kSsk2}{191}{1402}{Ssk2}
\W{kKgb1}{259}{1402}{Kgb-1}
\W{kB04}{301}{1402}{B0478.1}
\F{kP38b}{353}{1402}{P38b}
\F{kRl}{399}{1402}{Rl}
\F{kCdk5}{451}{1402}{Cdk5}
\F{kCdc2}{498}{1402}{Cdc2*}
\Y{kSte7}{49}{1437}{Ste7}
\Y{kPbs2}{165}{1437}{Pbs2}
\W{kSek1}{216}{1437}{Sek-1}
\W{kJkk1}{259}{1437}{Jkk-1}
\W{kMkk4}{299}{1437}{Mkk-4}
\F{kHpo}{407}{1437}{Hpo}
\Y{kSte11}{133}{1471}{Ste11}
\W{kZC}{259}{1471}{ZC504.4}
\F{kMekk1}{372}{1471}{Mekk1}
\end{scope}
\begin{scope}[on background layer]
\E{xd}{kCln3}{kCycd}
\E{xd}{kRck1}{kMapk}
\E{xd}{kCdc28}{kCdk4,kKgb1}
\E{xd}{kB04}{kCdk4}
\E{xd}{kSte11}{kHpo}
\E{xd}{kZC}{kHpo}
\E{xd}{kSte7}{kSek1}
\E{xs}{kFus3}{kKss1}
\E{xs}{kSsk2}{kKgb1}
\E{xs}{kKgb1}{kB04}
\E{xs}{kB04}{kP38b}
\E{xs}{kPbs2}{kSek1}
\E{xs}{kMkk4}{kHpo}
\E{xs}{kSte11}{kZC}
\E{xs}{kZC}{kMekk1}
\E{ye}{kCln3}{kCdc28}
\E{ye}{kRck1}{kFus3,kHog1}
\E{ye}{kFus3}{kSte7,kSte11}
\E{ye}{kKss1}{kSte7,kSte11}
\E{ye}{kHog1}{kPbs2,kSte11}
\E{ye}{kSsk2}{kPbs2}
\E{ye}{kPbs2}{kSte11}
\E{yl}{kCln3}{kSte7,kSte11}
\E{we}{kKgb1}{kMkk4}
\E{we}{kB04}{kMkk4}
\E{wt}{kSek1}{kJkk1}
\E{wt}{kJkk1}{kMkk4}
\E{wl}{kKgb1}{kJkk1}
\E{wl}{kJkk1}{kZC}
\E{fe}{kCycd}{kCdk4,kCdk5,kCdc2,kHpo}
\E{fe}{kMapk}{kP38b}
\E{fe}{kRl}{kMekk1}
\end{scope}
% ================= l =================
\node[anchor=base west,inner sep=0pt,font=\lblfont\fontsize{26}{26}\selectfont] (tl) at (585,1346) {l};
\node[anchor=base west,inner sep=0pt,font=\serf\bfseries\fontsize{19}{20}\selectfont] (ttl1) at (607,1334) {Nuclear transport/};
\node[anchor=base west,inner sep=0pt,font=\serf\bfseries\fontsize{19}{20}\selectfont] (ttl2) at (603,1351) {Mitotic checkpoint};
\begin{scope}[yn/.append style={minimum width=34pt,minimum height=24pt},wn/.append style={minimum width=38pt,minimum height=26pt},fn/.append style={minimum width=36pt,minimum height=25pt}]
\Y{lNup}{629}{1376}{Nup116}
\W{lZK}{688}{1376}{ZK328.5}
\Y{lGle2}{629}{1414}{Gle2}
\W{lY54}{688}{1414}{Y54G9A.6}
\F{lBub3}{746}{1414}{Bub3*}
\Y{lMad3}{629}{1453}{Mad3}
\W{lBubw}{688}{1453}{Bub-1}
\F{lBub1}{746}{1453}{Bub1*}
\Y{lCln3}{629}{1490}{Cln3}
\F{lCycb}{746}{1490}{Cycb}
% ================= m =================
\Y{mChd1}{894}{1370}{Chd1}
\W{mC27}{960}{1370}{C27B7.4}
\Y{mHsh49}{894}{1408}{Hsh49}
\W{mExc7}{960}{1408}{Exc-7}
\F{mCG33}{1025}{1408}{CG33070}
\Y{mTos8}{894}{1448}{Tos8}
\W{mT28}{960}{1448}{T28F12.2}
\F{mHth}{1025}{1448}{Hth}
\W{mF31}{960}{1490}{F31E3.2}
\F{mExd}{1025}{1490}{Exd}
\end{scope}
\Ttl{m}{833}{868}{1347}{Transcriptional regulation}
\begin{scope}[on background layer]
\E{xd}{lNup}{lZK}
\E{xs}{lGle2}{lY54}
\E{xd}{lY54}{lBub3}
\E{xd}{lMad3}{lBubw}
\E{xd}{lBubw}{lBub1}
\E{xd}{lCln3}{lCycb}
\E{ye}{lNup}{lGle2}
\E{ye}{lMad3}{lCln3}
\E{we}{lZK}{lY54}
\E{we}{lY54}{lBubw}
\E{fe}{lBub3}{lBub1}
\E{fe}{lBub1}{lCycb}
\E{xd}{mChd1}{mC27}
\E{xs}{mHsh49}{mExc7}
\E{xs}{mExc7}{mCG33}
\E{xs}{mTos8}{mT28}
\E{xs}{mT28}{mHth}
\E{xd}{mTos8}{mF31}
\E{xd}{mT28}{mExd}
\E{xd}{mF31}{mHth,mExd}
\E{ye}{mChd1}{mHsh49}
\E{ye}{mHsh49}{mTos8}
\E{we}{mC27}{mExc7}
\E{we}{mT28}{mF31}
\E{fe}{mCG33}{mHth}
\E{fe}{mHth}{mExd}
\end{scope}
\end{tikzpicture}
\end{document}
